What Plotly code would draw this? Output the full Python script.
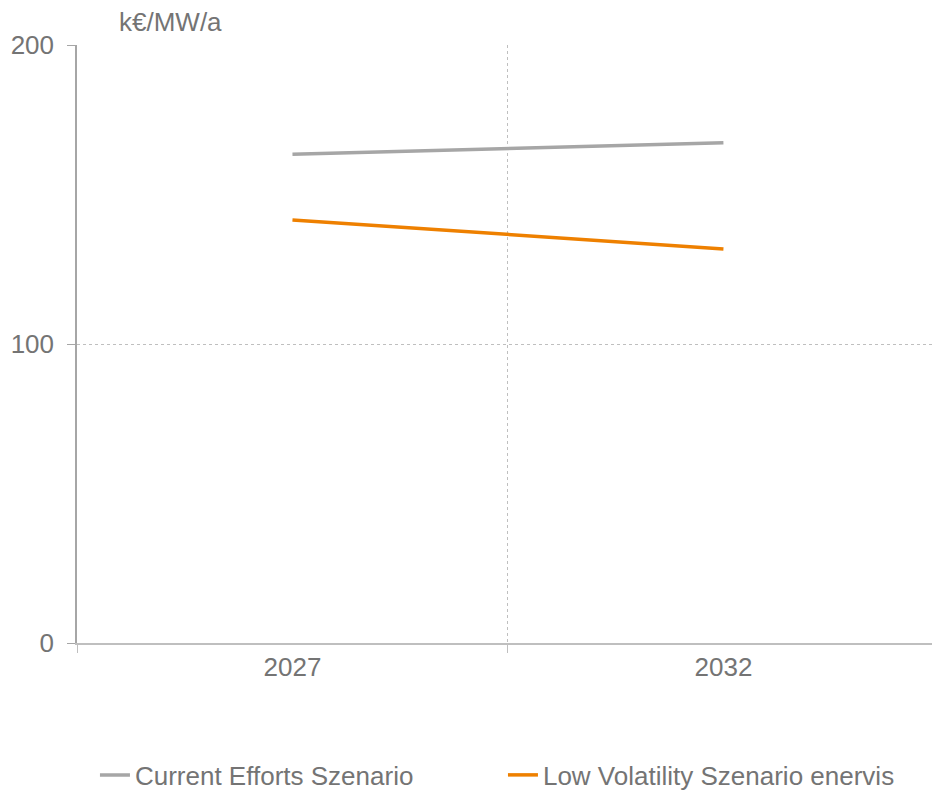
import plotly.graph_objects as go

years = ["2027", "2032"]
current_efforts = [163.5, 167.3]
low_volatility = [141.5, 131.8]
series_names = ["Current Efforts Szenario", "Low Volatility Szenario enervis"]
y_ticks = [0, 100, 200]
y_unit = "k€/MW/a"

TXT = "#747474"
FONT = "Liberation Sans, Arial, sans-serif"

fig = go.Figure()
fig.add_trace(go.Scatter(x=years, y=current_efforts, mode="lines", name=series_names[0],
                         line=dict(color="#a6a6a6", width=3.5)))
fig.add_trace(go.Scatter(x=years, y=low_volatility, mode="lines", name=series_names[1],
                         line=dict(color="#ee8000", width=3.5)))

fig.update_layout(
    width=932, height=792,
    margin=dict(l=77, r=0, t=45, b=149, autoexpand=False),
    paper_bgcolor="white", plot_bgcolor="white",
    font=dict(family=FONT, size=26, color=TXT),
    showlegend=True,
    legend=dict(orientation="h", x=0.021, xanchor="left", y=-0.2207, yanchor="middle",
                font=dict(size=26, color=TXT), entrywidth=363, entrywidthmode="pixels",
                bgcolor="rgba(0,0,0,0)", borderwidth=0, tracegroupgap=0),
    xaxis=dict(type="category", range=[-0.5, 1.484], tickson="boundaries",
               showgrid=True, gridcolor="#bfbfbf", griddash="dot", gridwidth=1,
               showline=True, linecolor="#bfbfbf", linewidth=2,
               ticks="outside", ticklen=8, tickcolor="#bfbfbf", tickwidth=1,
               tickfont=dict(size=26, color=TXT), zeroline=False, fixedrange=True,
               automargin=False),
    yaxis=dict(range=[0, 200], tickvals=y_ticks, showgrid=True, gridcolor="#bfbfbf",
               griddash="dot", gridwidth=1, showline=True, linecolor="#a6a6a6", linewidth=1.5,
               ticks="outside", ticklen=8, tickcolor="#a6a6a6", tickwidth=1,
               ticklabelstandoff=8,
               tickfont=dict(size=26, color=TXT), zeroline=False, fixedrange=True,
               automargin=False),
    annotations=[dict(text=y_unit, xref="paper", yref="paper", x=(117 - 77) / 855, y=1,
                      xanchor="left", yanchor="bottom", yshift=6, showarrow=False,
                      font=dict(size=26, color=TXT))],
)

fig.write_html("out.html")
